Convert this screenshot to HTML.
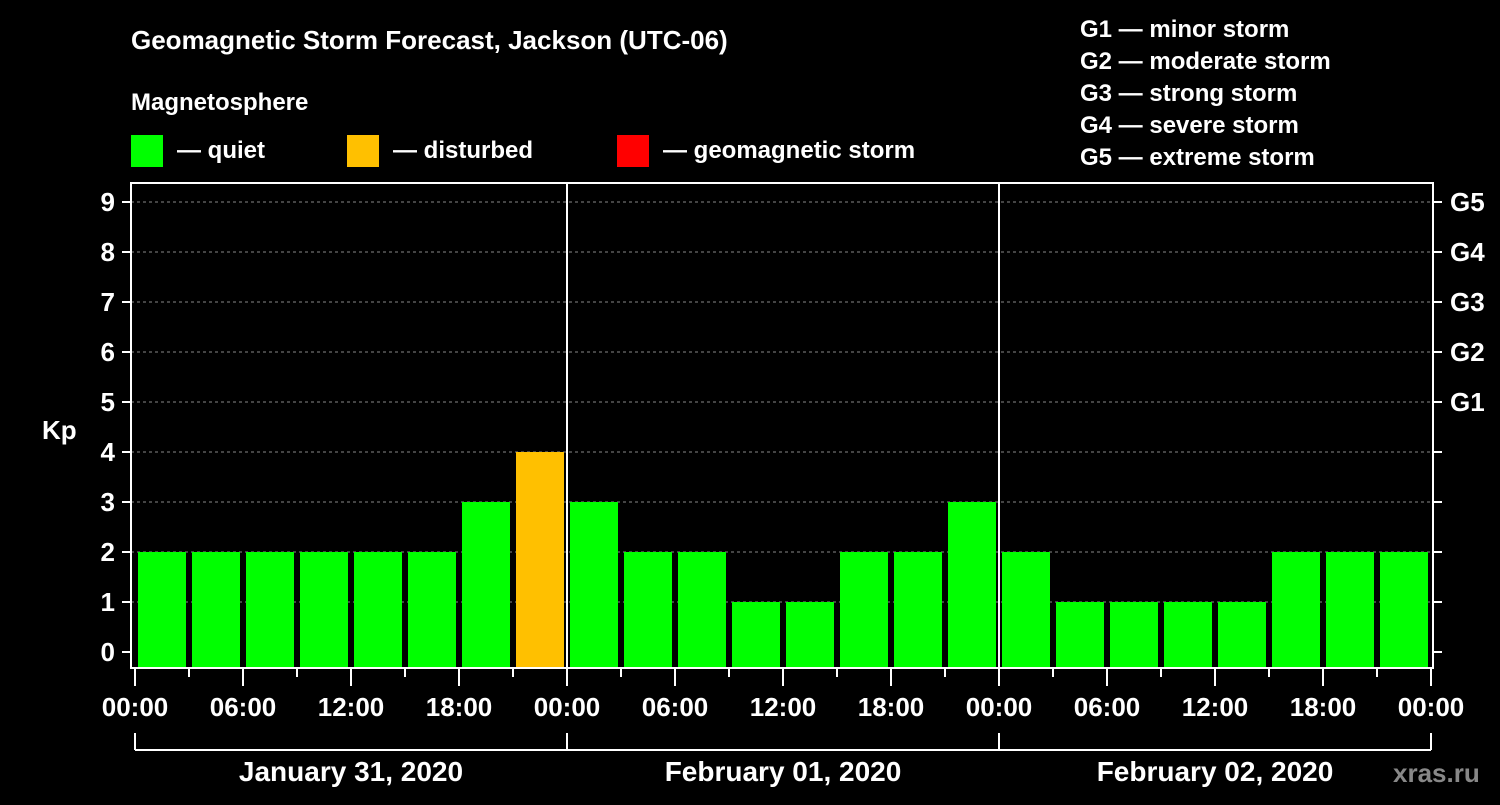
<!DOCTYPE html>
<html><head><meta charset="utf-8"><style>
body{margin:0;background:#000;}
svg text{font-family:"Liberation Sans",Arial,sans-serif;font-weight:bold;fill:#fff;}
</style></head><body>
<svg id="c" width="1500" height="800" xmlns="http://www.w3.org/2000/svg">
<rect width="1500" height="800" fill="#000"/>
<text x="131" y="49" font-size="26">Geomagnetic Storm Forecast, Jackson (UTC-06)</text>
<text x="131" y="110" font-size="24">Magnetosphere</text>
<g><rect x="131" y="135" width="32" height="32" fill="#00ff00"/><text x="177" y="158" font-size="24">— quiet</text></g>
<g><rect x="347" y="135" width="32" height="32" fill="#ffc000"/><text x="393" y="158" font-size="24">— disturbed</text></g>
<g><rect x="617" y="135" width="32" height="32" fill="#ff0000"/><text x="663" y="158" font-size="24">— geomagnetic storm</text></g>
<g font-size="24">
<text x="1080" y="37">G1 — minor storm</text>
<text x="1080" y="69">G2 — moderate storm</text>
<text x="1080" y="101">G3 — strong storm</text>
<text x="1080" y="133">G4 — severe storm</text>
<text x="1080" y="165">G5 — extreme storm</text>
</g>
<text x="42" y="439" font-size="26">Kp</text>
<text x="1393" y="782" font-size="26" fill="#777" style="fill:#888">xras.ru</text>
<g id="grid"></g><g id="bars"></g><g id="axes"></g>
</svg>
<script>
const values=[2,2,2,2,2,2,3,4, 3,2,2,1,1,2,2,3, 2,1,1,1,1,2,2,2];
const yTicks=[0,1,2,3,4,5,6,7,8,9];
const gLabels=["","","","","","G1","G2","G3","G4","G5"];
const xTickLabels=["00:00","06:00","12:00","18:00","00:00","06:00","12:00","18:00","00:00","06:00","12:00","18:00","00:00"];
const days=["January 31, 2020","February 01, 2020","February 02, 2020"];
const NS="http://www.w3.org/2000/svg";
const L=131,R=1433,T=183,B=668;
const y=v=>652-v*50;
const x=h=>135+h*18;
function mk(p,tag,a){const e=document.createElementNS(NS,tag);for(const k in a)e.setAttribute(k,a[k]);p.appendChild(e);return e;}
const grid=document.getElementById('grid'),bars=document.getElementById('bars'),axes=document.getElementById('axes');
yTicks.forEach((v,i)=>{
 if(v>0){const g=mk(grid,'line',{x1:L,x2:R,y1:y(v),y2:y(v),stroke:'#888','stroke-dasharray':'3,3','stroke-width':1});
 
 }
 const t=mk(axes,'line',{x1:122,x2:L,y1:y(v),y2:y(v),stroke:'#fff','stroke-width':2});
 
 
 mk(axes,'line',{x1:R,x2:1442,y1:y(v),y2:y(v),stroke:'#fff','stroke-width':2});
 const lb=mk(axes,'text',{x:115,y:y(v)+9,'font-size':26,'text-anchor':'end'});lb.textContent=v;
 
 
 if(gLabels[i]){const gl=mk(axes,'text',{x:1450,y:y(v)+9,'font-size':26});gl.textContent=gLabels[i];
 
 }
});
values.forEach((v,i)=>{
 const c=v>=5?'#ff0000':(v>=4?'#ffc000':'#00ff00');
 const b=mk(bars,'rect',{x:x(i*3)+3,y:y(v),width:48,height:B-1-y(v),fill:c});
 
 
});
mk(axes,'rect',{x:L,y:T,width:R-L,height:B-T,fill:'none',stroke:'#fff','stroke-width':2});
[1,2].forEach(d=>{const s=mk(axes,'line',{x1:x(d*24),x2:x(d*24),y1:T,y2:B,stroke:'#fff','stroke-width':2});
 
 });
for(let i=0;i<=24;i++){
 const major=i%2===0;
 mk(axes,'line',{x1:x(i*3),x2:x(i*3),y1:B,y2:major?686:677,stroke:'#fff','stroke-width':2});
}
xTickLabels.forEach((s,i)=>{const t=mk(axes,'text',{x:x(i*6),y:716,'font-size':26,'text-anchor':'middle'});t.textContent=s;
 
 });
mk(axes,'line',{x1:x(0),x2:x(72),y1:750,y2:750,stroke:'#fff','stroke-width':2});
[0,1,2,3].forEach(d=>mk(axes,'line',{x1:x(d*24),x2:x(d*24),y1:733,y2:750,stroke:'#fff','stroke-width':2}));
days.forEach((s,d)=>{const t=mk(axes,'text',{x:x(d*24+12),y:781,'font-size':28,'text-anchor':'middle'});t.textContent=s;
 
 });
</script>
</body></html>
